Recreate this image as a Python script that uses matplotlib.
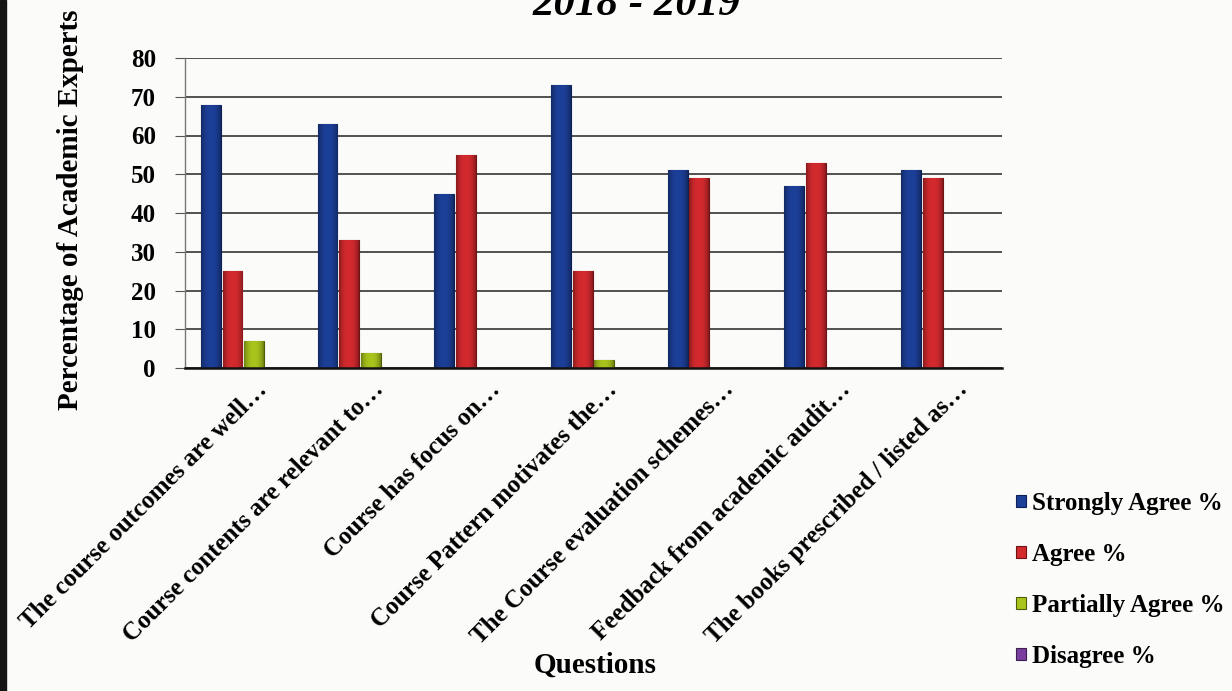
import numpy as np
import matplotlib
matplotlib.use("Agg")
import matplotlib.pyplot as plt
import matplotlib.transforms as mtransforms
from matplotlib.colors import to_rgb
from matplotlib.patches import Rectangle

# Survey results, academic experts 2018 - 2019
questions = ["The course outcomes are well…",
             "Course contents are relevant to…",
             "Course has focus on…",
             "Course Pattern motivates the…",
             "The Course evaluation schemes…",
             "Feedback from academic audit…",
             "The books prescribed / listed as…"]
strongly_agree = [68, 63, 45, 73, 51, 47, 51]
agree = [25, 33, 55, 25, 49, 53, 49]
partially_agree = [7, 4, 0, 2, 0, 0, 0]
disagree = [0, 0, 0, 0, 0, 0, 0]

series = ["Strongly Agree %", "Agree %", "Partially Agree %", "Disagree %"]
colors = ["#1c3f98", "#d32a2e", "#a9c41c", "#7a3f9e"]
edges = ["#0e1f55", "#6e1214", "#4f5f08", "#3c1d50"]

plt.rcParams["font.family"] = ["Liberation Serif", "DejaVu Serif"]
plt.rcParams["font.weight"] = "bold"

fig = plt.figure(figsize=(12.32, 6.91), dpi=100)
fig.patch.set_facecolor("#fbfbfa")
ax = fig.add_axes([185 / 1232, 1 - 368 / 691, 817 / 1232, 310 / 691])
ax.set_facecolor("#fbfbfa")

x = np.arange(len(questions))
pitch = 0.186
width = 0.17


def shade(bars, color):
    # bevelled look: darker toward the left and right edges of each bar
    base = np.array(to_rgb(color))
    t = np.linspace(-1, 1, 40)
    k = 1 - 0.35 * np.abs(t) ** 2.5
    grad = (base[None, :] * k[:, None])[None, :, :]
    for b in bars:
        if b.get_height() <= 0:
            continue
        x0, y0 = b.get_x(), b.get_y()
        im = ax.imshow(grad, extent=[x0, x0 + b.get_width(), y0, y0 + b.get_height()],
                       aspect="auto", zorder=3.5, interpolation="bilinear")
        im.set_clip_path(b)


for i, (vals, name) in enumerate(zip([strongly_agree, agree, partially_agree, disagree], series)):
    bars = ax.bar(x + (i - 1.5) * pitch, vals, width, color=colors[i], edgecolor=edges[i],
                  linewidth=0.8, label=name, zorder=3)
    shade(bars, colors[i])

ax.set_xlim(-0.5, len(questions) - 0.5)
ax.set_ylim(0, 80)
ax.set_yticks(range(0, 81, 10))
ax.yaxis.grid(True, color="#444444", linewidth=1.3, zorder=0)
ax.tick_params(axis="y", length=7, color="#555555", labelsize=18, pad=14)
ax.tick_params(axis="x", length=0, labelsize=18)
for lab in ax.get_yticklabels():
    lab.set_fontweight("bold")

ax.set_xticks(x)
ax.set_xticklabels(questions, rotation=45, ha="right", va="center",
                   rotation_mode="anchor", fontweight="bold")
shift = mtransforms.ScaledTranslation(20 / 100, -13 / 100, fig.dpi_scale_trans)
for lab in ax.get_xticklabels():
    lab.set_transform(lab.get_transform() + shift)

for side in ["top", "right"]:
    ax.spines[side].set_visible(False)
ax.spines["left"].set_color("#777777")
ax.spines["left"].set_linewidth(1.0)
ax.spines["bottom"].set_color("#111111")
ax.spines["bottom"].set_linewidth(1.8)
ax.spines["bottom"].set_zorder(4)

ax.set_ylabel("Percentage of Academic Experts", fontsize=21, fontweight="bold")
ax.yaxis.set_label_coords(-0.124, 0.51)

fig.text(0.517, 1 - 15 / 691, "2018 - 2019", ha="center", va="baseline",
         fontsize=31, fontweight="bold", fontstyle="italic")
fig.text(595 / 1232, 1 - 673 / 691, "Questions", ha="center", va="baseline",
         fontsize=21, fontweight="bold")

ax.legend(loc="center left", bbox_to_anchor=(1003 / 1232, 1 - 580 / 691),
          bbox_transform=fig.transFigure, frameon=False,
          prop={"weight": "bold", "size": 18}, handlelength=0.4, handleheight=0.4,
          handletextpad=0.25, labelspacing=1.12, borderpad=0)

# dark edge along the left border
fig.patches.append(Rectangle((0, 0), 6 / 1232, 1, transform=fig.transFigure,
                             color="#151515", zorder=10))

fig.savefig("out.png", dpi=100, facecolor=fig.get_facecolor())
